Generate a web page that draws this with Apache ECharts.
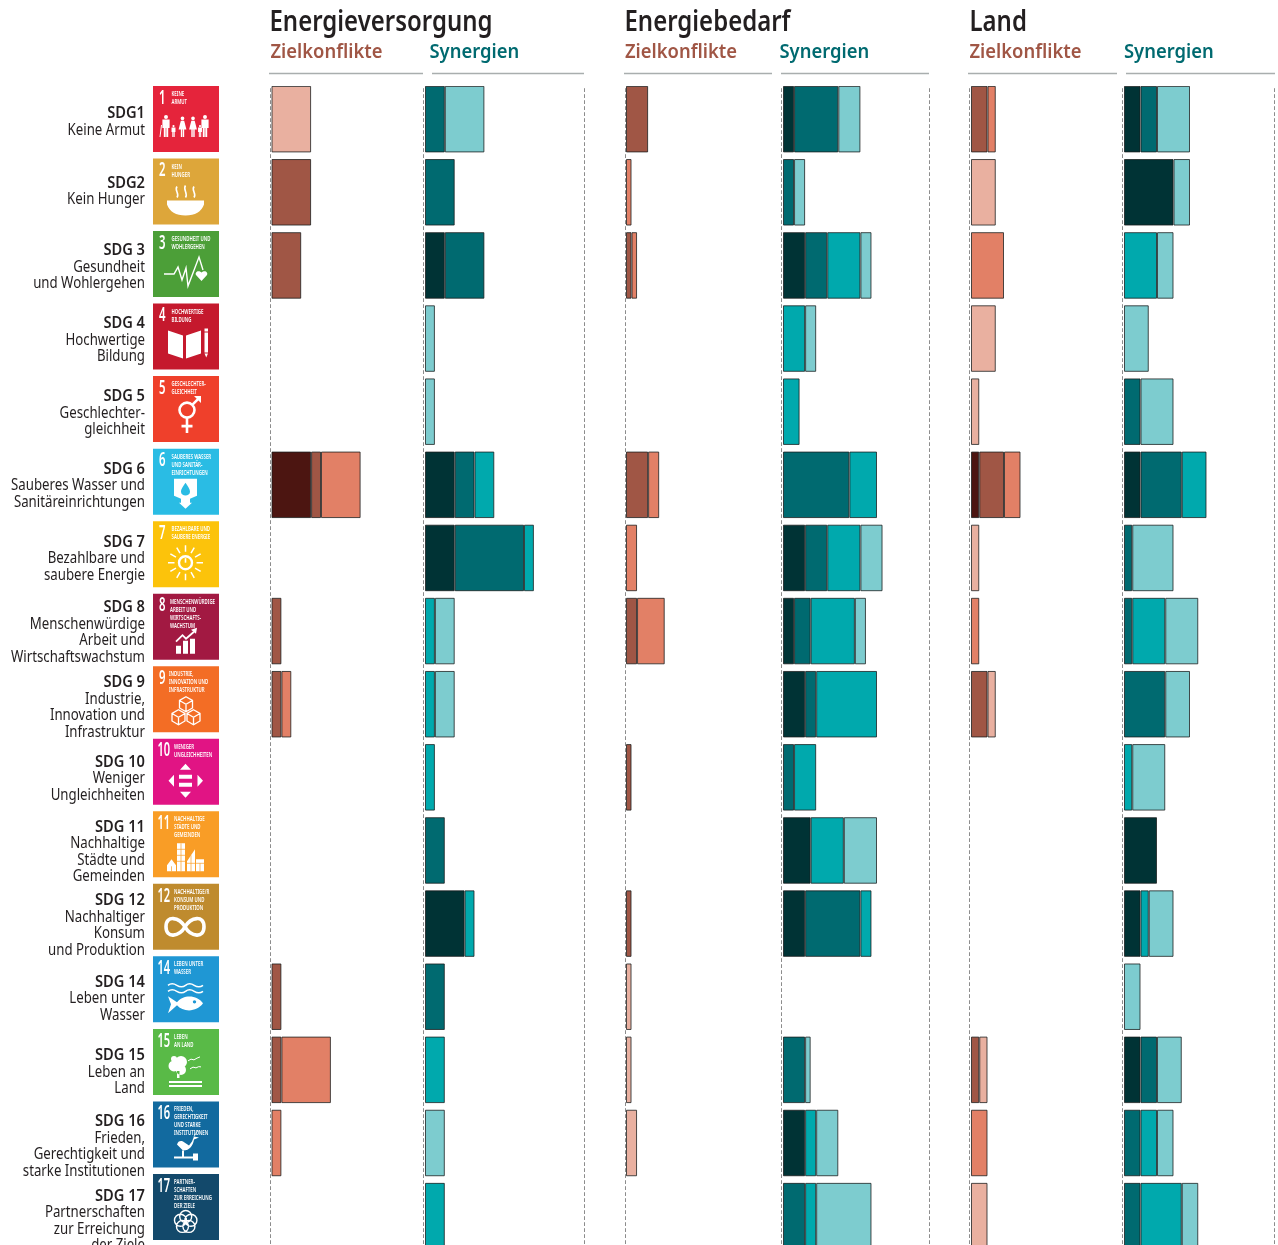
<!DOCTYPE html>
<html lang="de"><head><meta charset="utf-8"><title>SDG</title>
<style>html,body{margin:0;padding:0;background:#fff;overflow:hidden}#c{width:1278px;height:1245px}</style>
<script src="https://cdn.jsdelivr.net/npm/echarts@6/dist/echarts.min.js"></script></head>
<body><div id="c"></div>
<script>
const n = null;
const sdgIds = ['SDG1','SDG2','SDG 3','SDG 4','SDG 5','SDG 6','SDG 7','SDG 8','SDG 9','SDG 10','SDG 11','SDG 12','SDG 14','SDG 15','SDG 16','SDG 17'];
const sdgNames = ['Keine Armut','Kein Hunger','Gesundheit\nund Wohlergehen','Hochwertige\nBildung','Geschlechter-\ngleichheit','Sauberes Wasser und\nSanitäreinrichtungen','Bezahlbare und\nsaubere Energie','Menschenwürdige\nArbeit und\nWirtschaftswachstum','Industrie,\nInnovation und\nInfrastruktur','Weniger\nUngleichheiten','Nachhaltige\nStädte und\nGemeinden','Nachhaltiger\nKonsum\nund Produktion','Leben unter\nWasser','Leben an\nLand','Frieden,\nGerechtigkeit und\nstarke Institutionen','Partnerschaften\nzur Erreichung\nder Ziele'];
const tileColors = ['#e5243b','#dda63a','#4c9f38','#c5192d','#ef402b','#2abce4','#fcc30b','#a21942','#f36d25','#e11484','#f99d26','#bf8b2e','#1f97d4','#59ba47','#126a9f','#13496b'];
const tileNumbers = ['1','2','3','4','5','6','7','8','9','10','11','12','14','15','16','17'];
const tileTitles = ['KEINE\nARMUT','KEIN\nHUNGER','GESUNDHEIT UND\nWOHLERGEHEN','HOCHWERTIGE\nBILDUNG','GESCHLECHTER-\nGLEICHHEIT','SAUBERES WASSER\nUND SANITÄR-\nEINRICHTUNGEN','BEZAHLBARE UND\nSAUBERE ENERGIE','MENSCHENWÜRDIGE\nARBEIT UND\nWIRTSCHAFTS-\nWACHSTUM','INDUSTRIE,\nINNOVATION UND\nINFRASTRUKTUR','WENIGER\nUNGLEICHHEITEN','NACHHALTIGE\nSTÄDTE UND\nGEMEINDEN','NACHHALTIGE/R\nKONSUM UND\nPRODUKTION','LEBEN UNTER\nWASSER','LEBEN\nAN LAND','FRIEDEN,\nGERECHTIGKEIT\nUND STARKE\nINSTITUTIONEN','PARTNER-\nSCHAFTEN\nZUR ERREICHUNG\nDER ZIELE'];

// Energieversorgung, Zielkonflikte
const vzA = [n,n,n,n,n,4,n,n,n,n,n,n,n,n,n,n];
const vzB = [n,4,3,n,n,1,n,1,1,n,n,n,1,1,n,n];
const vzC = [n,n,n,n,n,4,n,n,1,n,n,n,n,5,1,n];
const vzD = [4,n,n,n,n,n,n,n,n,n,n,n,n,n,n,n];
// Energieversorgung, Synergien
const vsA = [n,n,2,n,n,3,3,n,n,n,n,4,n,n,n,n];
const vsB = [2,3,4,n,n,2,7,n,n,n,2,n,2,n,n,n];
const vsC = [n,n,n,n,n,2,1,1,1,1,n,1,n,2,n,2];
const vsD = [4,n,n,1,1,n,n,2,2,n,n,n,n,n,2,n];
// Energiebedarf, Zielkonflikte
const bzA = [n,n,n,n,n,n,n,n,n,n,n,n,n,n,n,n];
const bzB = [4,n,1,n,n,4,n,2,n,1,n,1,n,n,n,n];
const bzC = [n,1,1,n,n,2,2,5,n,n,n,n,n,n,n,n];
const bzD = [n,n,n,n,n,n,n,n,n,n,n,n,1,1,2,n];
// Energiebedarf, Synergien
const bsA = [2,n,4,n,n,n,4,2,4,n,5,4,n,n,4,n];
const bsB = [8,2,4,n,n,12,4,3,2,2,n,10,n,4,n,4];
const bsC = [n,n,6,4,3,5,6,8,11,4,6,2,n,n,2,2];
const bsD = [4,2,2,2,n,n,4,2,n,n,6,n,n,1,4,10];
// Land, Zielkonflikte
const lzA = [n,n,n,n,n,1,n,n,n,n,n,n,n,n,n,n];
const lzB = [2,n,n,n,n,3,n,n,2,n,n,n,n,1,n,n];
const lzC = [1,n,4,n,n,2,n,1,n,n,n,n,n,n,2,n];
const lzD = [n,3,n,3,1,n,1,n,1,n,n,n,n,1,n,2];
// Land, Synergien
const lsA = [2,6,n,n,n,2,n,n,n,n,4,2,n,2,n,n];
const lsB = [2,n,n,n,2,5,1,1,5,n,n,n,n,2,2,2];
const lsC = [n,n,4,n,n,3,n,4,n,1,n,1,n,n,2,5];
const lsD = [4,2,2,3,4,n,5,4,3,4,n,3,2,3,2,2];

const conflictColors = ['#4c1511','#a05645','#e28066','#e9b0a0'];
const synergyColors = ['#003335','#006a70','#00a9ad','#7dcccf'];
const groupTitles = ['Energieversorgung','Energiebedarf','Land'];
const subTitles = ['Zielkonflikte','Synergien'];

const FONT = '"Noto Sans","Open Sans",sans-serif';
const ctx = document.createElement('canvas').getContext('2d');
const fit = (s, font, w) => { ctx.font = font; return w / ctx.measureText(s).width; };
const fTitle = `600 29px ${FONT}`, fSub = `600 20.5px ${FONT}`, fBold = `600 15.5px ${FONT}`, fReg = `400 15.5px ${FONT}`,
      fNum = `600 20px ${FONT}`, fTile = `600 7px ${FONT}`;
const sTitle = fit('Energieversorgung', fTitle, 223), sSub = fit('Zielkonflikte', fSub, 112),
      sBold = fit('SDG 10', fBold, 50), sReg = fit('Wirtschaftswachstum', fReg, 134),
      sNum = fit('8', fNum, 6.5), sNum2 = fit('10', fNum, 12.7), sTile = fit('MENSCHENWÜRDIGE', fTile, 45);

const TOP = 82.6, BAND = 73.13, ROWS_H = BAND * sdgIds.length;
const TILE_BAND = 72.53, TILE_TOP = 86 + 33 - TILE_BAND / 2;
const LABEL_BAND = 73.3, LABEL_TOP = 120.25 - LABEL_BAND / 2, LABEL_LINE = 16.5;
const labelNudge = [2,-2,.5,0,0,-1,-1,-1,1,-1,-1,-1,-1,-1,0,1.5];

const panels = [
  {left:271.5, width:152, max:152/9.9, colors:conflictColors, data:[vzA,vzB,vzC,vzD], off:1.5},
  {left:425, width:159, max:159/9.9, colors:synergyColors, data:[vsA,vsB,vsC,vsD], off:1.5, right:true},
  {left:626, width:146, max:146/5.53, colors:conflictColors, data:[bzA,bzB,bzC,bzD], off:1},
  {left:783, width:146, max:146/5.53, colors:synergyColors, data:[bsA,bsB,bsC,bsD], off:1.5, right:true},
  {left:971, width:146, max:146/8.25, colors:conflictColors, data:[lzA,lzB,lzC,lzD], off:1.5},
  {left:1124, width:150, max:150/8.25, colors:synergyColors, data:[lsA,lsB,lsC,lsD], off:1.5, right:true}
];

// pictogram helpers, in a 66 unit tile
const circ=(x,y,r)=>`M${x-r} ${y}A${r} ${r} 0 1 0 ${x+r} ${y}A${r} ${r} 0 1 0 ${x-r} ${y}Z`;
const box=(x,y,w,h)=>`M${x} ${y}H${x+w}V${y+h}H${x}Z`;
const poly=(...p)=>'M'+p.map(a=>a.join(' ')).join('L')+'Z';
const line=(...p)=>'M'+p.map(a=>a.join(' ')).join('L');
const man=(x,b,h)=>{const u=h/22;return circ(x,b-h+2*u,2*u)+poly([x-3.6*u,b-h+4.5*u],[x+3.6*u,b-h+4.5*u],[x+3.6*u,b-h+13*u],[x+2.2*u,b-h+13*u],[x+2.2*u,b],[x+.3*u,b],[x+.3*u,b-h+13*u],[x-.3*u,b-h+13*u],[x-.3*u,b],[x-2.2*u,b],[x-2.2*u,b-h+13*u],[x-3.6*u,b-h+13*u]);};
const woman=(x,b,h)=>{const u=h/22;return circ(x,b-h+2*u,2*u)+poly([x-1.8*u,b-h+4.5*u],[x+1.8*u,b-h+4.5*u],[x+4.2*u,b-h+14*u],[x+1.8*u,b-h+14*u],[x+1.8*u,b],[x+.3*u,b],[x+.3*u,b-h+14*u],[x-.3*u,b-h+14*u],[x-.3*u,b],[x-1.8*u,b],[x-1.8*u,b-h+14*u],[x-4.2*u,b-h+14*u]);};
const cube=(x,y,r)=>{const c=r*.866;return poly([x,y-r],[x+c,y-r/2],[x+c,y+r/2],[x,y+r],[x-c,y+r/2],[x-c,y-r/2])+line([x-c,y-r/2],[x,y],[x+c,y-r/2])+line([x,y],[x,y+r]);};
const rays=(x,y,a,b,k)=>{let s='';for(let i=0;i<k;i++){const t=i*2*Math.PI/k;s+=line([x+a*Math.cos(t),y+a*Math.sin(t)],[x+b*Math.cos(t),y+b*Math.sin(t)]);}return s;};
const petals=(x,y,d,r,k)=>{let s='';for(let i=0;i<k;i++){const t=i*2*Math.PI/k-Math.PI/2;s+=circ(x+d*Math.cos(t),y+d*Math.sin(t),r);}return s;};
const F=(d,color)=>({d,fill:color||'#fff'});
const S=(d,w,color)=>({d,stroke:color||'#fff',w});
const pictograms = [
  [F(man(13,51,22)+woman(29.5,51,20.5)+woman(40,51,20.5)+man(52,51,22)+man(20.5,51,12)+man(47,51,12)), S(line([8.5,39],[7,51]),1)],
  [F('M14 42H51V46Q47 57 32.5 57Q18 57 14 46Z'), S('M24 28C21 32 27 35 24 39M32.5 27C29.5 31 35.5 35 32.5 39M41 28C38 32 44 35 41 39',1.6)],
  [S(line([11,43],[21,43],[25,36],[29,49],[33,37],[35,55],[46,26],[50,39]),1.4), F('M48.5 50L43 44C41.5 41 45.5 38.5 48.5 41.5C51.5 38.5 55.5 41 54 44Z')],
  [F(poly([15,27],[30,32],[30,55],[15,50])+poly([33,32],[48,27],[48,50],[33,55])), F(box(51.5,29,3.5,20)+poly([51.5,50],[55,50],[53.25,54])+box(51.5,25,3.5,3))],
  [S(circ(34,34,7.5)+line([34,41.5],[34,57])+line([28.5,50],[39.5,50])+line([39.5,28.5],[46,22]),2.6), F(poly([41,20],[48,20],[48,27]))],
  [F('M21 30H44V47L37 50V54H39L32.5 60L26 54H28V50L21 47Z'), F('M32.5 34C29 39 28 41 28 43C28 48 37 48 37 43C37 41 36 39 32.5 34Z','T')],
  [S(circ(32.5,41.5,6.5),2.4), S(rays(32.5,41.5,11,17.5,12),1.5), S(line([32.5,37],[32.5,41.5]),1.6)],
  [F(box(23,52,5,8)+box(30,47,5,13)+box(37,45,5,15)), S(line([23,48],[29.5,41.5],[33,45],[41,38]),1.8), F(poly([38,36],[44,34],[43,40]))],
  [S(cube(33,38,7.5)+cube(25.5,51,7.5)+cube(40.5,51,7.5),1.3)],
  [F(poly([32.5,25],[38,31],[27,31])+poly([32.5,59],[38,53],[27,53])+poly([15.5,42],[21,36],[21,48])+poly([50,42],[44.5,36],[44.5,48])+box(26,36,13,4)+box(26,44,13,4))],
  [F(poly([14,54],[18.5,48],[23,54],[23,60],[14,60])+box(24,32,8,28)+poly([34,60],[34,50],[42,38],[42,60])+box(43,48,8,12)), S(line([24,38],[32,38])+line([24,44],[32,44])+line([24,50],[32,50])+line([28,32],[28,60])+line([34,52],[42,52])+line([38,44],[38,60])+line([43,52],[51,52])+line([47,52],[47,60])+line([18.5,55],[18.5,60]),.7,'T')],
  [S('M32 43C26 33 13 31 13 43C13 55 26 53 32 43C38 33 51 31 51 43C51 55 38 53 32 43Z',3.6)],
  [S('M15 29Q19 26 23.8 29T32.5 29T41.2 29T50 29M15 35Q19 32 23.8 35T32.5 35T41.2 35T50 35',1.5), F('M15 40L24 46C30 38 44 38 50 47C44 56 30 56 24 49L15 57L18 48Z'), F(circ(41.5,45.5,1.7),'T')],
  [F(circ(21,37,5.5)+circ(28,33,6)+circ(28,41,5)+circ(21,30,3)+box(24,42,2.5,7)+box(16,52,33,2)+box(16,56,33,2)), S('M35 32Q38 29 41 31Q44 29 47 28M37 40Q40 37 43 39Q46 37 48 38',1)],
  [F('M24 43L30 49C37 49 40 44 41 38L46 36L41 35L39 40L36 44L30 40C27 39 25 40 24 43Z'), F(box(21,55,19,2)+box(40,52,5,7)+box(29,49,2,6)), S(line([41,35],[45,29]),.8)],
  [S(petals(32.7,48,5.5,6,5),1.4)]
];
const BBOX = 'M0 0L0 0ZM66 66L66 66Z';

const grids=[], xAxes=[], yAxes=[], series=[];
const band = {type:'category', data:sdgIds, inverse:true, axisTick:{show:false}, axisLabel:{show:false}, splitLine:{show:false}};
const dash = {show:true, onZero:false, lineStyle:{color:'#8c8c8c', width:1, type:[3,3]}};
const addGrid = (left,width,top,height,max) => {
  const g=grids.length;
  grids.push({left,width,top,height,outerBoundsMode:'none',containLabel:false});
  xAxes.push({type:'value',gridIndex:g,min:0,max,show:false});
  return g;
};

// tile column
const gTile = addGrid(153,66,TILE_TOP,TILE_BAND*sdgIds.length,1);
yAxes.push({...band,gridIndex:gTile,axisLine:{show:false}});
series.push({type:'custom', xAxisIndex:gTile, yAxisIndex:yAxes.length-1, clip:false, silent:true,
  data:sdgIds.map((s,i)=>[0.5,s]), encode:{x:0,y:1},
  renderItem:(p,api)=>{
    const i=p.dataIndex, c=api.coord([0.5,i]), x=c[0]-33, y=c[1]-33, col=tileColors[i], num=tileNumbers[i], two=num.length>1;
    const tx = two ? 21 : (num==='8'?17:(num==='9'?16:18.5));
    const kids=[{type:'rect',shape:{x,y,width:66,height:66},style:{fill:col}},
      {type:'text',x:x+(two?4.5:6),y:y+12,scaleX:two?sNum2:sNum,style:{text:num,fill:'#fff',font:fNum,verticalAlign:'middle',align:'left'}},
      {type:'text',x:x+tx,y:y+4,scaleX:sTile,style:{text:tileTitles[i],fill:'#fff',font:fTile,lineHeight:8,align:'left'}}];
    pictograms[i].forEach(l=>{
      const style=l.stroke?{fill:'none',stroke:l.stroke==='T'?col:l.stroke,lineWidth:l.w}:{fill:l.fill==='T'?col:l.fill};
      kids.push({type:'path',shape:{pathData:BBOX+l.d,x,y,width:66,height:66,layout:'cover'},style});
    });
    return {type:'group',children:kids};
  }});

// row labels
const gLabel = addGrid(20,125,LABEL_TOP,LABEL_BAND*sdgIds.length,1);
yAxes.push({...band,gridIndex:gLabel,axisLine:{show:false}});
series.push({type:'custom', xAxisIndex:gLabel, yAxisIndex:yAxes.length-1, clip:false, silent:true,
  data:sdgIds.map((s,i)=>[1,s]), encode:{x:0,y:1},
  renderItem:(p,api)=>{
    const i=p.dataIndex, c=api.coord([1,i]);
    const lines=[sdgIds[i],...sdgNames[i].split('\n')];
    return {type:'group',children:lines.map((t,j)=>({type:'text',x:c[0],y:c[1]+labelNudge[i]+(j-(lines.length-1)/2)*LABEL_LINE,
      scaleX:j?sReg:sBold,style:{text:t,fill:'#231f20',font:j?fReg:fBold,align:'right',verticalAlign:'middle'}}))};
  }});

panels.forEach((pn,k)=>{
  const g=addGrid(pn.left,pn.width,TOP,ROWS_H,pn.max);
  const yi=yAxes.length;
  yAxes.push({...band,gridIndex:g,position:'left',offset:pn.off,axisLine:dash});
  if(pn.right) yAxes.push({...band,gridIndex:g,position:'right',offset:0,axisLine:dash});
  pn.data.forEach((arr,lv)=>{
    series.push({type:'bar',xAxisIndex:g,yAxisIndex:yi,stack:'p'+k,barWidth:66.5,data:arr,silent:true,
      itemStyle:{color:pn.colors[lv],borderColor:'rgba(25,30,30,0.78)',borderWidth:1}});
  });
});

const txt=(text,x,y,font,fill,scaleX)=>({type:'text',x,y,scaleX,silent:true,style:{text,fill,font,align:'left',verticalAlign:'middle'}});
const graphic=[{type:'rect',silent:true,z:20,shape:{x:240,y:78,width:1038,height:8},style:{fill:'#fff'}}];
[269.5,624.5,969.5].forEach((x,i)=>graphic.push(txt(groupTitles[i],x,23,fTitle,'#231f20',sTitle)));
[[270.5,429.5],[625,779.5],[969.5,1124]].forEach(p=>{
  graphic.push(txt(subTitles[0],p[0],52,fSub,'#a05645',sSub));
  graphic.push(txt(subTitles[1],p[1],52,fSub,'#006a70',sSub));
});
[[269,423],[432,584],[624,772],[781,929],[968,1117],[1126,1275]].forEach(r=>graphic.push({type:'line',silent:true,shape:{x1:r[0],y1:73.5,x2:r[1],y2:73.5},style:{stroke:'#a9aeae',lineWidth:1.6}}));

echarts.init(document.getElementById('c'),null,{renderer:'canvas'}).setOption({
  animation:false, backgroundColor:'#fff', tooltip:{show:false}, legend:{show:false},
  grid:grids, xAxis:xAxes, yAxis:yAxes, series, graphic
});
</script></body></html>
